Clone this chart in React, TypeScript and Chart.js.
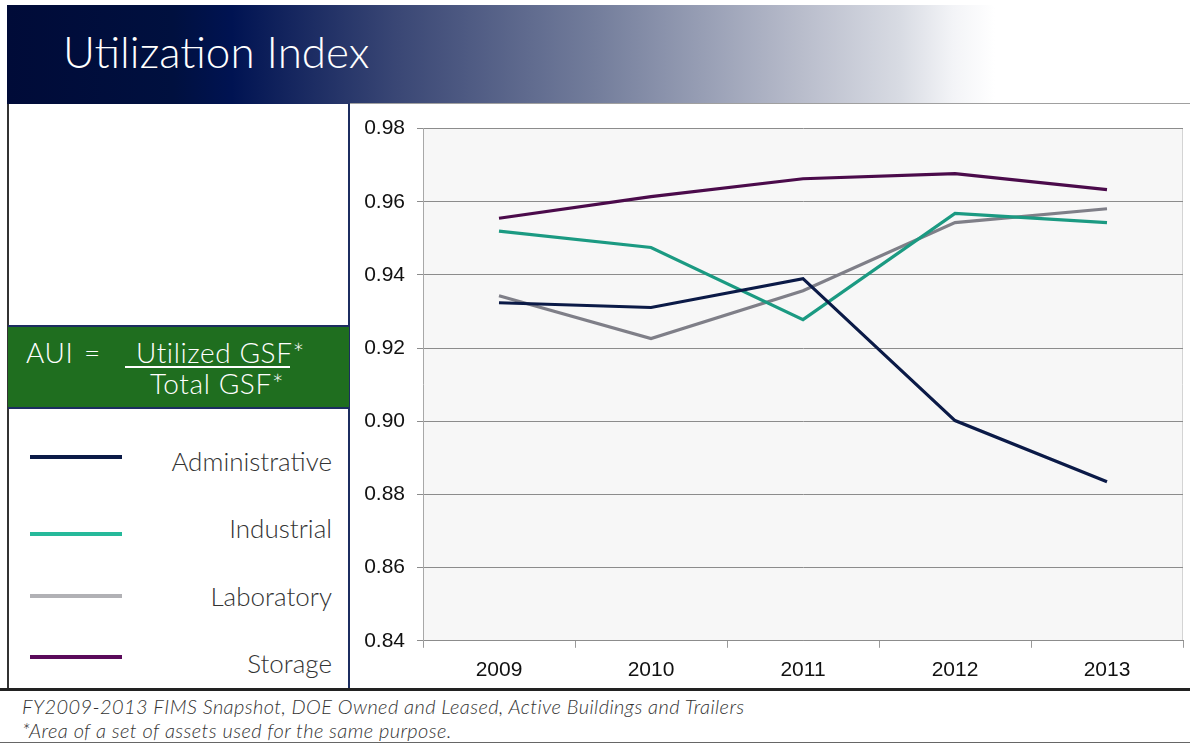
import React, { useEffect, useRef } from "react";
import { Chart, registerables } from "chart.js";

Chart.register(...registerables);

const years = ["2009", "2010", "2011", "2012", "2013"];
const administrative = [0.9324, 0.9311, 0.939, 0.9002, 0.8835];
const industrial = [0.952, 0.9475, 0.9278, 0.9568, 0.9543];
const laboratory = [0.9343, 0.9226, 0.9357, 0.9543, 0.9581];
const storage = [0.9555, 0.9614, 0.9663, 0.9677, 0.9633];
const yTicks = [0.84, 0.86, 0.88, 0.9, 0.92, 0.94, 0.96, 0.98];

const seriesNames = ["Administrative", "Industrial", "Laboratory", "Storage"];
const lineColors = ["#0b1a47", "#1b9a82", "#7f7f88", "#4b0b4b"];
const legendColors = ["#0b1a47", "#26b99a", "#b1b1b5", "#5a0a5a"];

const uiFont = "Lato, 'Open Sans', 'DejaVu Sans', sans-serif";
const axisFont = "'Liberation Sans', Arial, sans-serif";

const bgPlugin = {
  id: "plotBg",
  beforeDraw(chart: any) {
    const { ctx, chartArea } = chart;
    ctx.save();
    ctx.fillStyle = "#f7f7f7";
    ctx.fillRect(chartArea.left, chartArea.top, chartArea.right - chartArea.left, chartArea.bottom - chartArea.top);
    ctx.strokeStyle = "#d4d4d4";
    ctx.lineWidth = 1;
    ctx.beginPath();
    ctx.moveTo(chartArea.right - 0.5, chartArea.top);
    ctx.lineTo(chartArea.right - 0.5, chartArea.bottom);
    ctx.stroke();
    ctx.restore();
  },
};

function LineChart() {
  const ref = useRef<HTMLCanvasElement>(null);
  useEffect(() => {
    if (!ref.current) return;
    const data = [administrative, industrial, laboratory, storage];
    const chart = new Chart(ref.current, {
      type: "line",
      data: {
        labels: years,
        datasets: seriesNames.map((n, i) => ({
          label: n,
          data: data[i],
          borderColor: lineColors[i],
          backgroundColor: lineColors[i],
          borderWidth: 3.2,
          pointRadius: 0,
          tension: 0,
        })),
      },
      options: {
        animation: false,
        responsive: false,
        maintainAspectRatio: false,
        layout: { padding: { left: 0, right: 7, top: 24, bottom: 1 } },
        plugins: { legend: { display: false }, tooltip: { enabled: false } },
        scales: {
          x: {
            offset: true,
            grid: { display: true, drawOnChartArea: false, drawTicks: true, tickLength: 7, color: "#9a9a9a", offset: true },
            border: { display: true, color: "#8c8c8c" },
            ticks: { color: "#111", font: { family: axisFont, size: 21 }, padding: 10 },
          },
          y: {
            min: 0.84,
            max: 0.98,
            afterBuildTicks: (scale: any) => {
              scale.ticks = yTicks.map((v) => ({ value: v }));
            },
            afterFit: (scale: any) => {
              scale.width = 73;
            },
            grid: { color: "#8c8c8c", tickLength: 6, lineWidth: 1 },
            border: { display: true, color: "#a8a8a8" },
            ticks: {
              color: "#111",
              padding: 12,
              font: { family: axisFont, size: 21 },
              callback: (v: any) => Number(v).toFixed(2),
            },
          },
        },
      },
      plugins: [bgPlugin],
    });
    return () => chart.destroy();
  }, []);
  return <canvas ref={ref} width={840} height={590} style={{ position: "absolute", left: 350, top: 104, width: 840, height: 590 }} />;
}

export default function App() {
  const legendLineY = [457, 534, 596, 657];
  const legendLabelY = [461, 528, 596, 663];
  const formulaText = { position: "absolute" as const, color: "#fff", fontSize: 28, fontWeight: 300, lineHeight: "32px", whiteSpace: "nowrap" as const, letterSpacing: 0.6 };
  return (
    <div style={{ position: "fixed", left: 0, top: 0, width: 1190, height: 744, background: "#fff", overflow: "hidden", fontFamily: uiFont }}>
      <div
        style={{
          position: "absolute",
          left: 7,
          top: 5,
          width: 1183,
          height: 99,
          background:
            "linear-gradient(to right, #000b38 0%, #00103f 14%, #001352 19%, #3a4775 33%, #747e9c 50%, #b8bccb 67%, #d8dbe3 75.5%, #f3f4f7 80%, #ffffff 83.5%)",
        }}
      />
      <div style={{ position: "absolute", left: 350, top: 103, width: 840, height: 1, background: "#a0a0a0" }} />
      <div style={{ position: "absolute", left: 63, top: 23, color: "#fff", fontSize: 44, fontWeight: 300, lineHeight: "56px", whiteSpace: "nowrap" }}>
        Utilization Index
      </div>
      <LineChart />
      {/* left panel borders */}
      <div style={{ position: "absolute", left: 7, top: 104, width: 2, height: 586, background: "#333" }} />
      <div style={{ position: "absolute", left: 348, top: 104, width: 2, height: 586, background: "#1c2d60" }} />
      {/* formula box */}
      <div style={{ position: "absolute", left: 8, top: 325, width: 341, height: 84, background: "#1f6e1f", borderTop: "2px solid #1c2d60", borderBottom: "2px solid #1c2d60", boxSizing: "border-box" }} />
      <div style={{ ...formulaText, left: 26, top: 336 }}>AUI</div>
      <div style={{ ...formulaText, left: 84, top: 336 }}>=</div>
      <div style={{ ...formulaText, left: 136, top: 336 }}>Utilized GSF*</div>
      <div style={{ position: "absolute", left: 125, top: 366, width: 165, height: 2, background: "#fff" }} />
      <div style={{ ...formulaText, left: 150, top: 367 }}>Total GSF*</div>
      {/* legend */}
      {seriesNames.map((n, i) => (
        <React.Fragment key={n}>
          <div style={{ position: "absolute", left: 30, top: legendLineY[i] - 2, width: 92, height: 4, background: legendColors[i] }} />
          <div style={{ position: "absolute", right: 1190 - 332, top: legendLabelY[i] - 18, color: "#333", fontSize: 26, fontWeight: 300, lineHeight: "36px", whiteSpace: "nowrap" }}>{n}</div>
        </React.Fragment>
      ))}
      {/* footer */}
      <div style={{ position: "absolute", left: 0, top: 691, width: 1190, height: 53, background: "#fff" }} />
      <div style={{ position: "absolute", left: 0, top: 688, width: 1190, height: 3, background: "#222" }} />
      <div style={{ position: "absolute", left: 0, top: 742, width: 1190, height: 1, background: "#666" }} />
      <div style={{ position: "absolute", left: 22, top: 694, color: "#333", fontSize: 20, fontStyle: "italic", fontWeight: 300, lineHeight: "24px", whiteSpace: "nowrap", letterSpacing: 0.4 }}>
        FY2009-2013 FIMS Snapshot, DOE Owned and Leased, Active Buildings and Trailers
        <br />
        *Area of a set of assets used for the same purpose.
      </div>
    </div>
  );
}
